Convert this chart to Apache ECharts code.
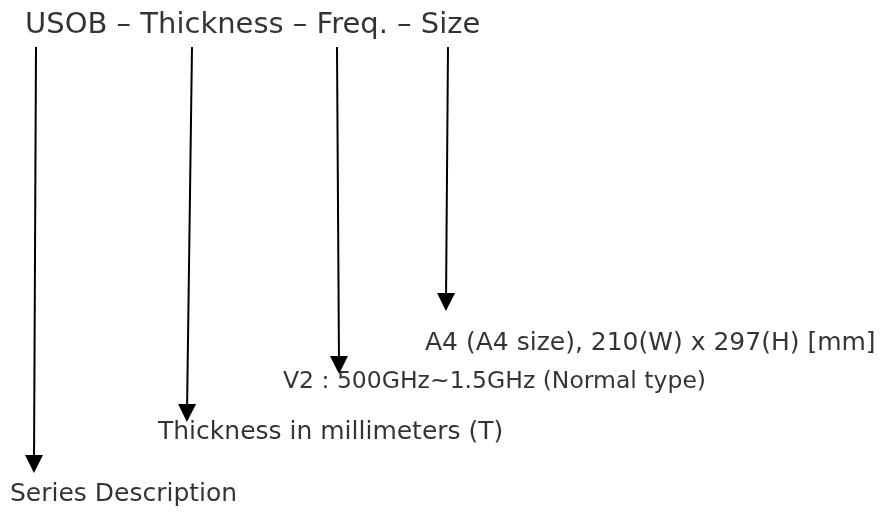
<!DOCTYPE html>
<html>
<head>
<meta charset="utf-8">
<script src="https://cdn.jsdelivr.net/npm/echarts@6/dist/echarts.min.js"></script>
<style>
  html, body { margin: 0; padding: 0; background: #fff; }
  #main { width: 882px; height: 517px; }
</style>
</head>
<body>
<div id="main"></div>
<script>
// code parts and what each one means
var codeParts = ['USOB', 'Thickness', 'Freq.', 'Size'];
var headline = 'USOB \u2013 Thickness \u2013 Freq. \u2013 Size';
var descriptions = [
    'Series Description',
    'Thickness in millimeters (T)',
    'V2 : 500GHz~1.5GHz (Normal type)',
    'A4 (A4 size), 210(W) x 297(H) [mm]'
];
// arrow start / tip points in diagram units (x right, y down)
var arrowFromX = [36, 192, 337, 448];
var arrowFromY = [47, 47, 47, 47];
var arrowToX = [34, 187, 339, 446];
var arrowToY = [473, 422, 374, 311];
// label anchor (left edge, vertical middle)
var labelX = [10, 158, 283, 425];
var labelY = [494, 432, 382, 343];

var FONT = '"DejaVu Sans", sans-serif';
var HEAD = [15, 18]; // arrow head width, length

var arrowData = [];
for (var i = 0; i < codeParts.length; i++) {
    // the head symbol is centred on the line end, so stop the shaft half a head early
    arrowData.push({
        name: codeParts[i],
        coords: [[arrowFromX[i], arrowFromY[i]], [arrowToX[i], arrowToY[i] - HEAD[1] / 2]]
    });
}
var labelData = [];
for (var j = 0; j < descriptions.length; j++) {
    var item = { value: [labelX[j], labelY[j]], name: descriptions[j] };
    // DejaVu digits run wide, squeeze the frequency line a bit
    if (j === 2) item.label = { fontSize: 23.5 };
    labelData.push(item);
}

var myChart = echarts.init(document.getElementById('main'));
var option = {
    backgroundColor: '#fff',
    animation: false,
    grid: { left: 0, right: 0, top: 0, bottom: 0 },
    xAxis: { type: 'value', min: 0, max: 882, show: false },
    yAxis: { type: 'value', min: 0, max: 517, inverse: true, show: false },
    series: [
        {
            type: 'lines',
            coordinateSystem: 'cartesian2d',
            symbol: ['none', 'triangle'],
            symbolSize: HEAD,
            lineStyle: { color: '#000', width: 2, opacity: 1 },
            data: arrowData
        },
        {
            type: 'scatter',
            symbolSize: 0,
            label: {
                show: true,
                position: 'inside',
                align: 'left',
                verticalAlign: 'middle',
                formatter: function (p) { return p.name; },
                color: '#000',
                fontFamily: FONT,
                fontSize: 25
            },
            data: labelData
        },
        {
            type: 'scatter',
            symbolSize: 0,
            label: {
                show: true,
                position: 'inside',
                align: 'left',
                verticalAlign: 'middle',
                formatter: function (p) { return p.name; },
                color: '#000',
                fontFamily: FONT,
                fontSize: 29
            },
            data: [{ value: [25, 25], name: headline }]
        }
    ]
};
myChart.setOption(option);
</script>
</body>
</html>
